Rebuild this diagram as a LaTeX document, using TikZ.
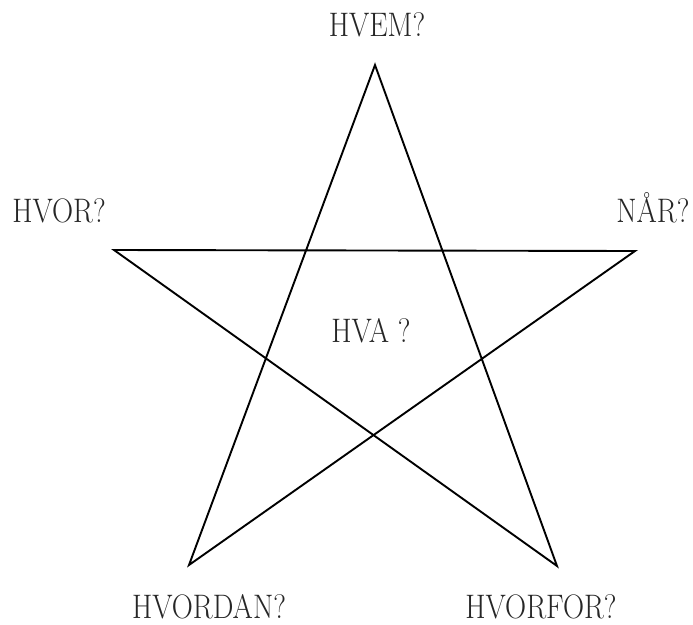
\documentclass[tikz,border=0pt]{standalone}
\usepackage{graphicx}
\begin{document}
\begin{tikzpicture}[x=1pt,y=-1pt,
  lbl/.style={font=\fontsize{34}{38}\selectfont, inner sep=0pt, anchor=base, text=black!85},
  edge/.style={line width=1.9pt, line join=miter}]
\useasboundingbox (0,0) rectangle (693,624);
\coordinate (T) at (375,65);
\coordinate (L) at (114,250);
\coordinate (R) at (635,251);
\coordinate (BL) at (189,565);
\coordinate (BR) at (557,566);
\draw[edge] (T) -- (BL) -- (R) -- (L) -- (BR) -- cycle;
\node[lbl] (hvem) at (377,36) {\scalebox{0.86}[1]{HVEM?}};
\node[lbl] (hvor) at (59,222) {\scalebox{0.86}[1]{HVOR?}};
\node[lbl] (naar) at (653,222) {\scalebox{0.86}[1]{NÅR?}};
\node[lbl] (hva) at (371,342) {\scalebox{0.86}[1]{HVA ?}};
\node[lbl] (hvordan) at (209,618) {\scalebox{0.86}[1]{HVORDAN?}};
\node[lbl] (hvorfor) at (541,618) {\scalebox{0.86}[1]{HVORFOR?}};
\end{tikzpicture}
\end{document}
